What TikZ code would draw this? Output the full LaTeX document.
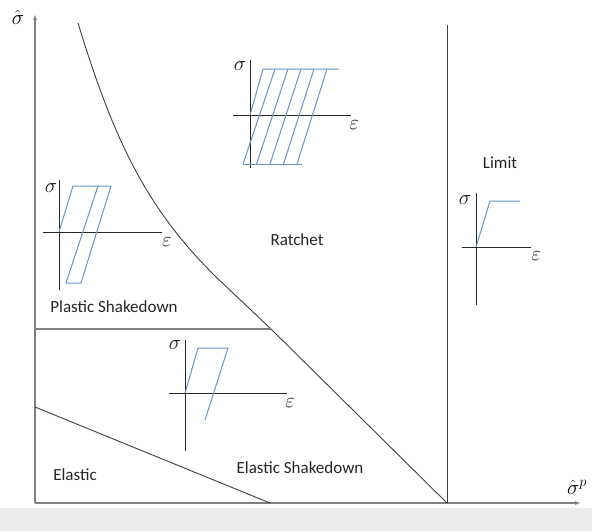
\documentclass[tikz,border=0pt]{standalone}
\usepackage{fontspec}
\setmainfont{Carlito}
\usepackage{amsmath}
\usetikzlibrary{arrows.meta, positioning}
\definecolor{axisgray}{RGB}{128,128,128}
\definecolor{linegray}{RGB}{64,64,64}
\definecolor{loopblue}{RGB}{105,148,200}
\definecolor{bandgray}{RGB}{236,236,236}

\begin{document}
\begin{tikzpicture}[
  x=1pt, y=-1pt,
  mainaxis/.style={-{Latex[length=6pt,width=4pt]}, line width=1.5pt, color=axisgray},
  boundary/.style={line width=0.9pt, color=linegray},
  inaxis/.style={line width=1pt, color=black!85},
  hyst/.style={line width=1pt, color=loopblue, line join=round},
  regionlabel/.style={font=\fontsize{17}{20}\selectfont, text=black!85, inner sep=0pt},
  greek/.style={font=\fontsize{21}{24}\selectfont, text=black!90, inner sep=0pt},
  axislabel/.style={font=\fontsize{22}{26}\selectfont, inner sep=0pt}
]
  \useasboundingbox (0,0) rectangle (592,531);
  \fill[bandgray] (0,508) rectangle (592,531);

  % Main axes
  \coordinate (O) at (35,503);
  \coordinate (ytip) at (35,14);
  \coordinate (xtip) at (581,503);
  \draw[mainaxis] (O) -- (ytip);
  \draw[mainaxis] (O) -- (xtip);
  \node[axislabel] (sighat) at (18,17) {$\hat{\sigma}$};
  \node[axislabel] (sighatp) at (577,487) {$\hat{\sigma}^{p}$};

  % Region boundaries
  \coordinate (rtop) at (78,23);
  \coordinate (knee) at (271,329);
  \coordinate (rbot) at (447,503);
  \draw[boundary] (rtop) .. controls (116,148) and (150,211) .. (215,276) -- (knee) -- (rbot);
  \draw[boundary, color=axisgray, line width=1.3pt] (35,329) -- (knee);
  \draw[boundary] (35,407) -- (270,503);
  \draw[boundary] (447,25) -- (rbot);

  % Region names
  \node[regionlabel] (ratchet) at (297,240) {Ratchet};
  \node[regionlabel] (limit)   at (500,163) {Limit};
  \node[regionlabel] (plastic) at (114,307) {Plastic Shakedown};
  \node[regionlabel] (elastic) at (75,475)  {Elastic};
  \node[regionlabel] (elshake) at (300,468) {Elastic Shakedown};

  % Ratchet loop
  \begin{scope}[shift={(250,115)}]
    \draw[inaxis] (0,-55) -- (0,53);
    \draw[inaxis] (-17,0) -- (101,0);
    \draw[hyst] (0,0) -- (13,-46) -- (89,-46);
    \draw[hyst] (-7,49) -- (52,49);
    \foreach \i in {0,...,4}
      \draw[hyst] (-7+13.5*\i,49) -- (25+13*\i,-46);
    \node[greek] (sigR) at (-10,-49) {$\sigma$};
    \node[greek] (epsR) at (104,10) {$\varepsilon$};
  \end{scope}

  % Plastic shakedown loop
  \begin{scope}[shift={(59,232)}]
    \draw[inaxis] (0,-52) -- (0,58);
    \draw[inaxis] (-16,0) -- (103,0);
    \draw[hyst] (0,0) -- (14,-46) -- (52,-46) -- (22,51) -- (7,51) -- (39,-46);
    \node[greek] (sigP) at (-8,-44) {$\sigma$};
    \node[greek] (epsP) at (108,10) {$\varepsilon$};
  \end{scope}

  % Elastic shakedown loop
  \begin{scope}[shift={(185,393)}]
    \draw[inaxis] (0,-53) -- (0,58);
    \draw[inaxis] (-16,0) -- (102,0);
    \draw[hyst] (0,0) -- (13,-45) -- (43,-45) -- (20,27);
    \node[greek] (sigE) at (-10,-48) {$\sigma$};
    \node[greek] (epsE) at (105,10) {$\varepsilon$};
  \end{scope}

  % Limit response
  \begin{scope}[shift={(476,247)}]
    \draw[inaxis] (0,-54) -- (0,58);
    \draw[inaxis] (-14,0) -- (55,0);
    \draw[hyst] (0,0) -- (14,-46) -- (44,-46);
    \node[greek] (sigL) at (-11,-47) {$\sigma$};
    \node[greek] (epsL) at (60,9) {$\varepsilon$};
  \end{scope}
\end{tikzpicture}
\end{document}
